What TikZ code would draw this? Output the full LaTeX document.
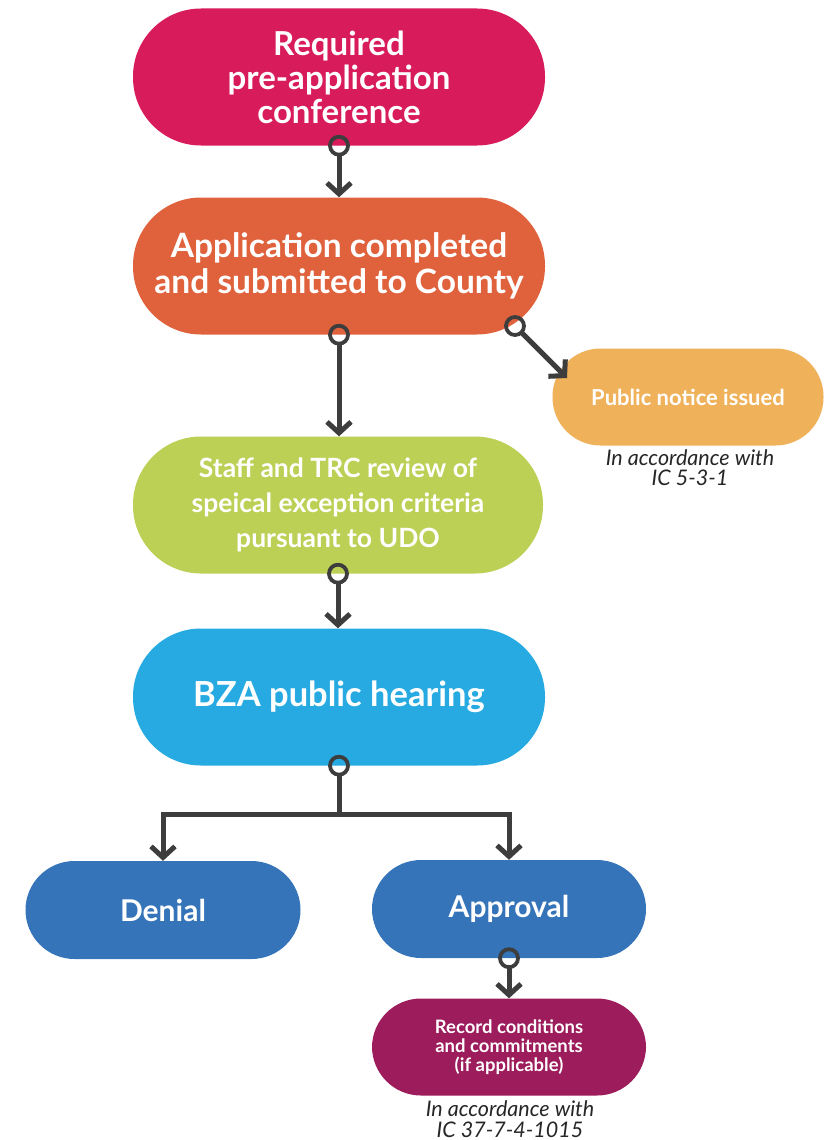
\documentclass[tikz,border=0pt]{standalone}
\usepackage{fontspec}
\setmainfont{Lato}
\usetikzlibrary{arrows.meta,calc}
\definecolor{cCrimson}{HTML}{D81B5A}
\definecolor{cOrange}{HTML}{E0623D}
\definecolor{cGold}{HTML}{EFB15A}
\definecolor{cLime}{HTML}{BCD055}
\definecolor{cSky}{HTML}{27AAE1}
\definecolor{cBlue}{HTML}{3574B9}
\definecolor{cPlum}{HTML}{9C1C5C}
\definecolor{cLine}{HTML}{3D3D3D}
\definecolor{cNote}{HTML}{262626}
\tikzset{
  pill/.style={rectangle, rounded corners=#1, text=white, font=\bfseries,
    align=center, inner sep=0pt},
  bigpill/.style={pill=68pt, minimum width=412pt, minimum height=137pt},
  smallpill/.style={pill=49pt, minimum width=274pt, minimum height=98pt},
  conn/.style={draw=cLine, line width=5pt, shorten <=9pt,
    -{Straight Barb[length=11pt,width=24pt,line width=5pt]}},
  ring/.style={circle, draw=cLine, line width=3.8pt, minimum size=18pt, inner sep=0pt},
  note/.style={font=\itshape, text=cNote, align=center, inner sep=0pt}
}
\begin{document}
\begin{tikzpicture}[x=1pt,y=-1pt]
\useasboundingbox (0,0) rectangle (823,1140);

\node[bigpill, fill=cCrimson, font=\bfseries\fontsize{33}{34}\selectfont] (conf) at (339,77)
  {Required\\pre-application\\conference};
\node[bigpill, fill=cOrange, font=\bfseries\fontsize{33.5}{36}\selectfont] (appl) at (339,266)
  {Application completed\\and submitted to County};
\node[smallpill, pill=48pt, minimum width=271pt, minimum height=97pt, fill=cGold,
  font=\bfseries\fontsize{22}{24}\selectfont] (notice) at (688,397) {Public notice issued};
\node[note, font=\itshape\fontsize{21.5}{20}\selectfont] (noticenote) at (690,468)
  {In accordance with\\IC 5-3-1};
\node[bigpill, minimum width=410pt, fill=cLime, font=\bfseries\fontsize{26.5}{35}\selectfont] (review) at (338,505)
  {Staff and TRC review of\\speical exception criteria\\pursuant to UDO};
\node[bigpill, fill=cSky, font=\bfseries\fontsize{34.5}{36}\selectfont] (hearing) at (339,697)
  {BZA public hearing};
\node[smallpill, minimum width=275pt, fill=cBlue, font=\bfseries\fontsize{30}{30}\selectfont] (denial) at (163,910)
  {Denial};
\node[smallpill, fill=cBlue, font=\bfseries\fontsize{30}{30}\selectfont] (approval) at (509,909)
  {Approval};
\node[smallpill, minimum height=97pt, fill=cPlum, font=\bfseries\fontsize{18.5}{19}\selectfont] (record) at (509,1047)
  {Record conditions\\and commitments\\(if applicable)};
\node[note, font=\itshape\fontsize{21.5}{21}\selectfont] (recordnote) at (510,1119)
  {In accordance with\\IC 37-7-4-1015};

% connectors
\coordinate (applout) at ($(appl.center)+(176,60)$);
\coordinate (noticein) at ($(notice.center)+(-121,-19)$);
\coordinate (split) at ($(hearing.south)+(0,49)$);

\draw[conn] (conf.south) -- (conf.south |- appl.north);
\draw[conn] (appl.south) -- (appl.south |- review.north);
\draw[conn] (applout) -- (noticein);
\draw[conn] (review.south) -- (review.south |- hearing.north);
\draw[draw=cLine, line width=5pt, shorten <=9pt] (hearing.south) -- (split);
\draw[conn, shorten <=0pt] (split) -| (denial.north);
\draw[conn, shorten <=0pt] (split) -| (approval.north);
\draw[conn] (approval.south) -- (approval.south |- record.north);

\node[ring] at (conf.south) {};
\node[ring] at (appl.south) {};
\node[ring] at (applout) {};
\node[ring] at (review.south) {};
\node[ring] at (hearing.south) {};
\node[ring] at (approval.south) {};
\end{tikzpicture}
\end{document}
